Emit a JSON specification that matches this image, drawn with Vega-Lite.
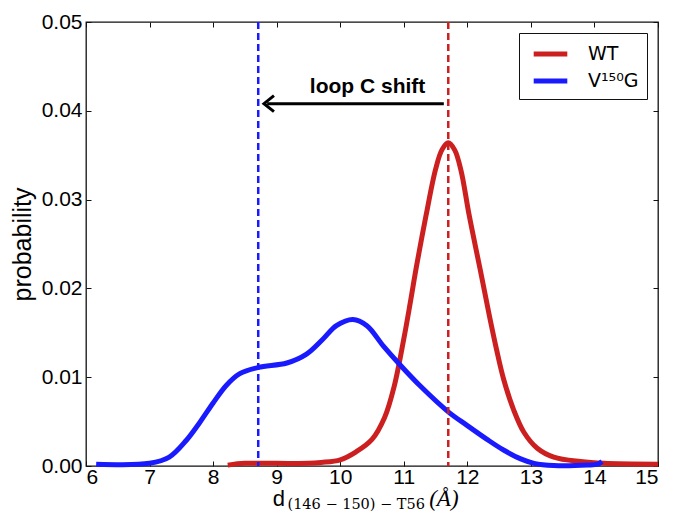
{
  "$schema": "https://vega.github.io/schema/vega-lite/v6.json",
  "width": 572,
  "height": 444,
  "autosize": "none",
  "padding": {"left": 86, "top": 22, "right": 15, "bottom": 50},
  "background": "white",
  "config": {
    "view": {"stroke": "#111111", "strokeWidth": 1.3},
    "font": "Liberation Sans",
    "axis": {
      "grid": false,
      "domain": false,
      "tickColor": "#111111",
      "tickWidth": 1,
      "tickSize": -5,
      "labelFont": "Liberation Sans",
      "labelFontSize": 21,
      "labelColor": "black",
      "titleFont": "Liberation Sans",
      "titleFontWeight": "normal",
      "titleColor": "black"
    }
  },
  "datasets": {
    "curves": [
      {"series": "WT", "d": 8.23, "p": 0.0001},
      {"series": "WT", "d": 8.5, "p": 0.0003},
      {"series": "WT", "d": 9.0, "p": 0.0003},
      {"series": "WT", "d": 9.5, "p": 0.0003},
      {"series": "WT", "d": 9.7, "p": 0.0004},
      {"series": "WT", "d": 10.0, "p": 0.0007},
      {"series": "WT", "d": 10.25, "p": 0.0016},
      {"series": "WT", "d": 10.5, "p": 0.003},
      {"series": "WT", "d": 10.7, "p": 0.0055},
      {"series": "WT", "d": 10.85, "p": 0.009},
      {"series": "WT", "d": 11.0, "p": 0.0143},
      {"series": "WT", "d": 11.1, "p": 0.0183},
      {"series": "WT", "d": 11.2, "p": 0.0225},
      {"series": "WT", "d": 11.35, "p": 0.0282},
      {"series": "WT", "d": 11.5, "p": 0.0334},
      {"series": "WT", "d": 11.6, "p": 0.0356},
      {"series": "WT", "d": 11.7, "p": 0.0364},
      {"series": "WT", "d": 11.8, "p": 0.0356},
      {"series": "WT", "d": 11.9, "p": 0.0333},
      {"series": "WT", "d": 12.03, "p": 0.0282},
      {"series": "WT", "d": 12.2, "p": 0.0222},
      {"series": "WT", "d": 12.35, "p": 0.0168},
      {"series": "WT", "d": 12.46, "p": 0.0131},
      {"series": "WT", "d": 12.57, "p": 0.0098},
      {"series": "WT", "d": 12.73, "p": 0.0063},
      {"series": "WT", "d": 12.89, "p": 0.0038},
      {"series": "WT", "d": 13.1, "p": 0.002},
      {"series": "WT", "d": 13.36, "p": 0.001},
      {"series": "WT", "d": 13.78, "p": 0.0005},
      {"series": "WT", "d": 14.15, "p": 0.0003},
      {"series": "WT", "d": 15.0, "p": 0.0002},
      {"series": "V¹⁵⁰G", "d": 6.16, "p": 0.0002},
      {"series": "V¹⁵⁰G", "d": 7.0, "p": 0.0003},
      {"series": "V¹⁵⁰G", "d": 7.31, "p": 0.001},
      {"series": "V¹⁵⁰G", "d": 7.58, "p": 0.0029},
      {"series": "V¹⁵⁰G", "d": 7.79, "p": 0.0049},
      {"series": "V¹⁵⁰G", "d": 8.0, "p": 0.0071},
      {"series": "V¹⁵⁰G", "d": 8.21, "p": 0.0091},
      {"series": "V¹⁵⁰G", "d": 8.42, "p": 0.0104},
      {"series": "V¹⁵⁰G", "d": 8.71, "p": 0.0111},
      {"series": "V¹⁵⁰G", "d": 9.16, "p": 0.0116},
      {"series": "V¹⁵⁰G", "d": 9.47, "p": 0.0126},
      {"series": "V¹⁵⁰G", "d": 9.73, "p": 0.0143},
      {"series": "V¹⁵⁰G", "d": 9.94, "p": 0.0158},
      {"series": "V¹⁵⁰G", "d": 10.2, "p": 0.0165},
      {"series": "V¹⁵⁰G", "d": 10.42, "p": 0.0158},
      {"series": "V¹⁵⁰G", "d": 10.68, "p": 0.0135},
      {"series": "V¹⁵⁰G", "d": 10.94, "p": 0.0114},
      {"series": "V¹⁵⁰G", "d": 11.26, "p": 0.009},
      {"series": "V¹⁵⁰G", "d": 11.7, "p": 0.0061},
      {"series": "V¹⁵⁰G", "d": 11.99, "p": 0.0046},
      {"series": "V¹⁵⁰G", "d": 12.31, "p": 0.003},
      {"series": "V¹⁵⁰G", "d": 12.57, "p": 0.0018},
      {"series": "V¹⁵⁰G", "d": 12.84, "p": 0.0008},
      {"series": "V¹⁵⁰G", "d": 13.05, "p": 0.0003},
      {"series": "V¹⁵⁰G", "d": 13.36, "p": 0.00005},
      {"series": "V¹⁵⁰G", "d": 13.89, "p": 0.0001},
      {"series": "V¹⁵⁰G", "d": 14.05, "p": 0.0002},
      {"series": "V¹⁵⁰G", "d": 14.12, "p": 0.0005}
    ]
  },
  "layer": [
    {
      "data": {"name": "curves"},
      "mark": {"type": "line", "strokeWidth": 5, "interpolate": "catmull-rom"},
      "encoding": {
        "x": {
          "field": "d", "type": "quantitative",
          "scale": {"domain": [6, 15], "nice": false, "zero": false},
          "axis": {"orient": "bottom", "values": [6, 7, 8, 9, 10, 11, 12, 13, 14, 15], "format": "d", "title": null, "labelPadding": 5}
        },
        "y": {
          "field": "p", "type": "quantitative",
          "scale": {"domain": [0, 0.05], "nice": false},
          "axis": {"orient": "left", "values": [0, 0.01, 0.02, 0.03, 0.04, 0.05], "format": ".2f", "title": "probability", "titleFontSize": 25, "titlePadding": 6, "labelPadding": 9}
        },
        "color": {
          "field": "series", "type": "nominal",
          "scale": {"domain": ["WT", "V¹⁵⁰G"], "range": ["#cc2020", "#1a1aff"]},
          "legend": {
            "title": null,
            "orient": "top-right",
            "offset": 11,
            "strokeColor": "#111111",
            "fillColor": "white",
            "cornerRadius": 0,
            "padding": 8,
            "symbolType": "M-0.6,0H2.6",
            "symbolStrokeWidth": 5,
            "symbolSize": 441,
            "labelFont": "DejaVu Sans",
            "labelFontSize": 19,
            "labelColor": "black",
            "labelOffset": 35,
            "rowPadding": 4
          }
        },
        "order": {"field": "d", "type": "quantitative"}
      }
    },
    {
      "data": {"values": [{}]},
      "mark": {"type": "rule", "color": "#1a1aff", "strokeWidth": 2.5, "strokeDash": [7, 4]},
      "encoding": {
        "x": {
          "datum": 8.71, "type": "quantitative",
          "axis": {"orient": "top", "values": [6, 7, 8, 9, 10, 11, 12, 13, 14, 15], "labels": false, "title": null}
        }
      }
    },
    {
      "data": {"values": [{}]},
      "mark": {"type": "rule", "color": "#cc2020", "strokeWidth": 2.5, "strokeDash": [7, 4]},
      "encoding": {
        "x": {"datum": 11.7, "type": "quantitative", "axis": null}
      }
    },
    {
      "data": {"values": [{}]},
      "mark": {"type": "rule", "color": "black", "strokeWidth": 3},
      "encoding": {
        "x": {"datum": 11.63, "type": "quantitative", "axis": null},
        "x2": {"datum": 8.85},
        "y": {
          "datum": 0.0408, "type": "quantitative",
          "axis": {"orient": "right", "values": [0, 0.01, 0.02, 0.03, 0.04, 0.05], "labels": false, "title": null}
        }
      }
    },
    {
      "data": {"values": [{}]},
      "mark": {"type": "point", "shape": "M1,-0.8L0,0L1,0.8", "size": 400, "filled": false, "stroke": "black", "strokeWidth": 3, "opacity": 1},
      "encoding": {
        "x": {"datum": 8.8, "type": "quantitative", "axis": null},
        "y": {"datum": 0.0408, "type": "quantitative", "axis": null}
      }
    },
    {
      "data": {"values": [{}]},
      "mark": {"type": "text", "text": "loop C shift", "font": "Liberation Sans", "fontSize": 21, "fontWeight": "bold", "align": "center", "baseline": "middle", "color": "black"},
      "encoding": {
        "x": {"datum": 10.43, "type": "quantitative", "axis": null},
        "y": {"datum": 0.0427, "type": "quantitative", "axis": null}
      }
    },
    {
      "data": {"values": [{}]},
      "mark": {"type": "text", "text": "d", "font": "Liberation Sans", "fontSize": 22, "align": "left", "baseline": "alphabetic", "color": "black"},
      "encoding": {
        "x": {"datum": 8.94, "type": "quantitative", "axis": null},
        "y": {"datum": -0.0045, "type": "quantitative", "axis": null}
      }
    },
    {
      "data": {"values": [{}]},
      "mark": {"type": "text", "text": "(146 − 150) − T56", "font": "DejaVu Serif", "fontSize": 14.5, "align": "left", "baseline": "alphabetic", "color": "black"},
      "encoding": {
        "x": {"datum": 9.17, "type": "quantitative", "axis": null},
        "y": {"datum": -0.0048, "type": "quantitative", "axis": null}
      }
    },
    {
      "data": {"values": [{}]},
      "mark": {"type": "text", "text": "(Å)", "font": "Liberation Serif", "fontSize": 23, "fontStyle": "italic", "align": "left", "baseline": "alphabetic", "color": "black"},
      "encoding": {
        "x": {"datum": 11.4, "type": "quantitative", "axis": null},
        "y": {"datum": -0.0045, "type": "quantitative", "axis": null}
      }
    }
  ],
  "resolve": {"axis": {"x": "independent", "y": "independent"}}
}
